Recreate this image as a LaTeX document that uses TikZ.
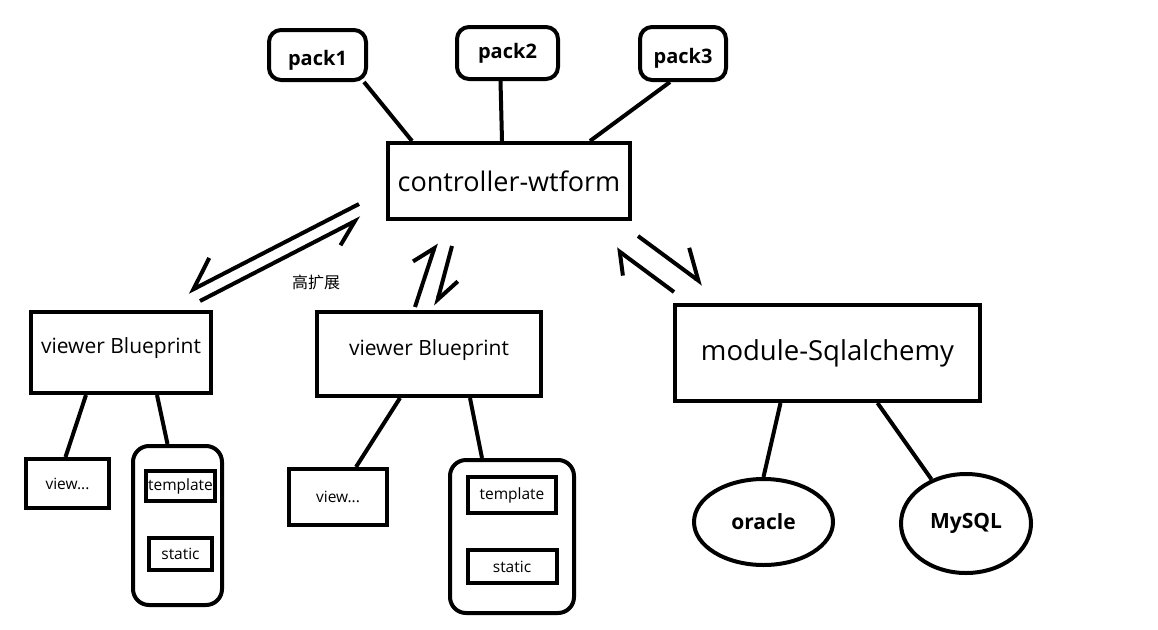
\documentclass[tikz,border=0pt]{standalone}
\usepackage{fontspec}
\setmainfont{Open Sans}
\newfontfamily\cjk{Noto Sans CJK SC}
\usetikzlibrary{arrows.meta,positioning,shapes.geometric}
\tikzset{
    %Define style for plain boxes
    box/.style={
      rectangle,
      draw=black, line width=4pt,
      inner sep=0pt,
      align=center},
    %Define style for the packages on top
    pack/.style={
      box,
      rounded corners=12pt,
      font=\fontsize{20}{24}\selectfont\bfseries},
    % rounded holder of template and static
    tray/.style={
      box,
      rounded corners=16pt},
    % databases
    db/.style={
      ellipse,
      draw=black, line width=4pt,
      inner sep=0pt,
      font=\fontsize{21}{25}\selectfont\bfseries},
    small/.style={font=\fontsize{15.5}{18}\selectfont},
    % Define line and harpoon styles
    link/.style={line width=4pt},
    harpl/.style={
      line width=4pt,
      -{Straight Barb[harpoon, angle=#1]}},
    harpr/.style={
      line width=4pt,
      -{Straight Barb[harpoon, swap, angle=#1]}}
}
\begin{document}
\begin{tikzpicture}[x=1pt, y=-1pt, node distance=33pt]
    \useasboundingbox (0,0) rectangle (1158,629);

    % packages and controller
    \node[pack, minimum width=97pt, minimum height=50pt, text height=25pt] (pack1) at (317.5,55) {pack1};
    \node[pack, minimum width=101pt, minimum height=52pt] (pack2) at (507.5,53) {pack2};
    \node[pack, minimum width=86pt, minimum height=53pt, text height=24pt] (pack3) at (683,53.5) {pack3};
    \node[box, minimum width=242pt, minimum height=76pt,
      font=\fontsize{27}{32}\selectfont] (ctrl) at (509,181) {controller-wtform};

    \draw[link] ([xshift=-4pt]pack1.south east) -- ([xshift=-97pt]ctrl.north);
    \draw[link] ([xshift=-7pt]pack2.south) -- ([xshift=-7pt]ctrl.north);
    \draw[link] ([xshift=-13pt]pack3.south) -- ([xshift=81pt]ctrl.north);

    % viewers
    \node[box, minimum width=180pt, minimum height=81pt, text depth=14pt,
      font=\fontsize{21}{25}\selectfont] (vb1) at (121,352.5) {viewer Blueprint};
    \node[box, minimum width=224pt, minimum height=84pt, text depth=12pt,
      font=\fontsize{21}{25}\selectfont] (vb2) at (429,354) {viewer Blueprint};
    \node[box, minimum width=305pt, minimum height=96pt,
      font=\fontsize{27.5}{32}\selectfont] (mod) at (827.5,353) {module-Sqlalchemy};

    \node[font=\cjk\fontsize{16}{18}\selectfont] (ext) at (316,282) {高扩展};

    % harpoons between controller and the rest
    \coordinate (h1a) at (359,204);
    \coordinate (h1b) at (188,292);
    \coordinate (h2a) at (200,301);
    \coordinate (h2b) at (361,218);
    \coordinate (h3a) at (415,307);
    \coordinate (h3b) at (436,243);
    \coordinate (h4a) at (452,246);
    \coordinate (h4b) at (436,306);
    \coordinate (h5a) at (674,292);
    \coordinate (h5b) at (616,249);
    \coordinate (h6a) at (638,236);
    \coordinate (h6b) at (703,284);
    \draw[harpr=72:35pt] (h1a) -- (h1b);
    \draw[harpr=64:28pt] (h2a) -- (h2b);
    \draw[harpl=80:25pt] (h3a) -- (h3b);
    \draw[harpl=66:27pt] (h4a) -- (h4b);
    \draw[harpl=92:24pt] (h5a) -- (h5b);
    \draw[harpl=76:34pt] (h6a) -- (h6b);

    % first viewer
    \node[box, small, minimum width=83pt, minimum height=49pt] (view1) at (67.5,483.5) {view...};
    \node[tray, minimum width=89pt, minimum height=159pt] (cont1) at (177.5,525.5) {};
    \node[box, small, minimum width=69pt, minimum height=30pt] (tpl1) at (180.5,486) {template};
    \node[box, small, minimum width=63pt, minimum height=32pt, below=of tpl1] (st1) {static};

    \draw[link] ([xshift=-35pt]vb1.south) -- ([xshift=-2pt]view1.north);
    \draw[link] ([xshift=36pt]vb1.south) -- ([xshift=-10pt]cont1.north);

    % second viewer
    \node[box, small, minimum width=98pt, minimum height=56pt] (view2) at (338,497) {view...};
    \node[tray, minimum width=124pt, minimum height=153pt] (cont2) at (512,536.5) {};
    \node[box, small, minimum width=88pt, minimum height=36pt] (tpl2) at (512,495) {template};
    \node[box, small, minimum width=89pt, minimum height=33pt, below=of tpl2] (st2) {static};

    \draw[link] ([xshift=-29pt]vb2.south) -- ([xshift=18pt]view2.north);
    \draw[link] ([xshift=41pt]vb2.south) -- ([xshift=-30pt]cont2.north);

    % databases
    \node[db, minimum width=139pt, minimum height=86pt] (oracle) at (763.5,522) {oracle};
    \node[db, minimum width=130pt, minimum height=99pt] (mysql) at (966,523.5) {MySQL};

    \draw[link] ([xshift=-47pt]mod.south) -- (oracle.north);
    \draw[link] ([xshift=50pt]mod.south) -- (mysql.128);
\end{tikzpicture}
\end{document}
